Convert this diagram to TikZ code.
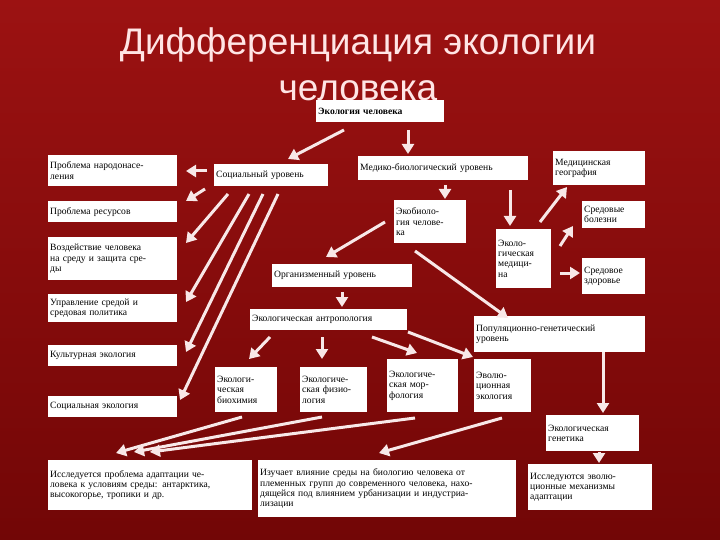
\documentclass[tikz,border=0pt]{standalone}
\usepackage{fontspec}
\setmainfont{Liberation Serif}
\newfontfamily\titlefont{Liberation Sans}
\usetikzlibrary{arrows.meta}
\definecolor{bgA}{HTML}{9C1212}
\definecolor{bgB}{HTML}{720606}
\definecolor{arr}{HTML}{F8E8E8}
\begin{document}
\begin{tikzpicture}[x=1pt,y=-1pt,
 bx/.style={draw=none,fill=white,inner sep=2pt,align=left,font=\fontsize{9.6}{10.2}\selectfont,anchor=north west},
 ar/.style={draw=arr,line width=3pt,-{Triangle[width=12pt,length=10pt]}}]
\shade[top color=bgA,bottom color=bgB] (0,0) rectangle (720,540);
\useasboundingbox (0,0) rectangle (720,540);
\node[font=\titlefont\fontsize{37}{46}\selectfont,text=white!90!red,align=center] (title) at (358,64) {Дифференциация экологии\\человека};
\newcommand\bxat[5]{\node[bx,minimum width=#3-#1,minimum height=#4-#2,text width=#3-#1-4] (#5) at (#1,#2)}
\bxat{316}{100}{444}{122}{ec}{\bfseries Экология человека};
\bxat{48}{155}{177}{186}{pn}{Проблема народонасе-\\ления};
\bxat{214}{164}{328}{186}{su}{Социальный уровень};
\bxat{358}{156}{528}{180}{mb}{Медико-биологический уровень};
\bxat{553}{151}{645}{185}{mg}{Медицинская\\география};
\bxat{48}{201}{177}{222}{pr}{Проблема ресурсов};
\bxat{394}{200}{466}{243}{eb}{Экобиоло-\\гия челове-\\ка};
\bxat{582}{201}{645}{228}{sb}{Средовые\\болезни};
\bxat{496}{229}{551}{288}{em}{Эколо-\\гическая\\медици-\\на};
\bxat{582}{258}{645}{294}{sz}{Средовое\\здоровье};
\bxat{48}{237}{177}{280}{vz}{Воздействие человека\\на среду и защита сре-\\ды};
\bxat{272}{264}{412}{287}{ou}{Организменный уровень};
\bxat{48}{294}{177}{322}{up}{Управление средой и\\средовая политика};
\bxat{250}{309}{407}{330}{ea}{Экологическая антропология};
\bxat{474}{316}{645}{352}{pg}{Популяционно-генетический\\уровень};
\bxat{48}{345}{177}{366}{ke}{Культурная экология};
\bxat{215}{367}{277}{412}{bh}{Экологи-\\ческая\\биохимия};
\bxat{300}{367}{367}{412}{fz}{Экологиче-\\ская физио-\\логия};
\bxat{387}{359}{458}{412}{mf}{Экологиче-\\ская мор-\\фология};
\bxat{474}{359}{531}{412}{ev}{Эволю-\\ционная\\экология};
\bxat{48}{396}{177}{417}{se}{Социальная экология};
\bxat{546}{415}{639}{451}{eg}{Экологическая\\генетика};
\bxat{48}{460}{252}{510}{b1}{Исследуется проблема адаптации че-\\ловека к условиям среды: антарктика,\\высокогорье, тропики и др.};
\bxat{258}{460}{516}{517}{b2}{Изучает влияние среды на биологию человека от\\племенных групп до современного человека, нахо-\\дящейся под влиянием урбанизации и индустриа-\\лизации};
\bxat{528}{464}{652}{510}{b3}{Исследуются эволю-\\ционные механизмы\\адаптации};
\draw[ar] (344,130) -- (288,159);
\draw[ar] (408,130) -- (408,154);
\draw[ar] (207,171) -- (186,171);
\draw[ar] (205,189) -- (186,201);
\draw[ar] (228,194) -- (186,243);
\draw[ar] (249,194) -- (186,302);
\draw[ar] (263,194) -- (186,352);
\draw[ar] (278,194) -- (180,400);
\draw[ar] (445,185) -- (445,199);
\draw[ar] (510,190) -- (510,226);
\draw[ar] (540,222) -- (567,187);
\draw[ar] (560,246) -- (573,226);
\draw[ar] (560,273) -- (580,273);
\draw[ar] (385,222) -- (326,257);
\draw[ar] (415,251) -- (508,318);
\draw[ar] (342,292) -- (342,307);
\draw[ar] (270,337) -- (249,359);
\draw[ar] (322,337) -- (322,359);
\draw[ar] (372,337) -- (417,353);
\draw[ar] (408,332) -- (473,357);
\draw[ar] (603,352) -- (603,413);
\draw[ar] (599,452) -- (599,463);
\draw[ar] (242,417) -- (116,453);
\draw[ar] (322,417) -- (134,452);
\draw[ar] (415,418) -- (150,452);
\draw[ar] (502,418) -- (379,453);
\end{tikzpicture}
\end{document}
